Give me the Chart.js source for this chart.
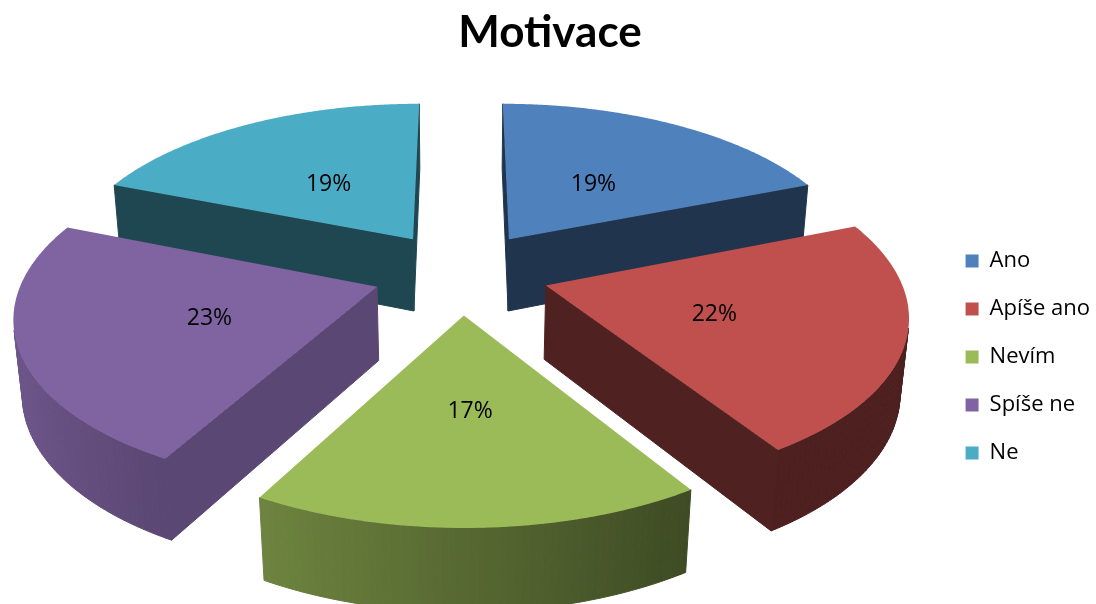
<!DOCTYPE html>
<html><head><meta charset="utf-8">
<script src="https://cdn.jsdelivr.net/npm/chart.js@4/dist/chart.umd.min.js"></script>
<style>html,body{margin:0;padding:0;background:#fff}#c{display:block}</style>
</head><body>
<canvas id="c" width="1096" height="604"></canvas>
<script>
// ---- data ----
const categories = ['Ano', 'Apíše ano', 'Nevím', 'Spíše ne', 'Ne'];
const values = [19, 22, 17, 23, 19];
const titleText = 'Motivace';

// ---- styles ----
const colors = ['#4F81BD', '#C0504D', '#9BBB59', '#8064A2', '#4BACC6'];
const radialShade = [0.41, 0.41, 0.41, 0.71, 0.41];
const view = { cx: 461, cy: 272.5, F: 2044, D: 5.80, tilt: Math.asin(0.4696), explode: 0.25, depth: 0.24, labelR: 0.48 };

function shade(hex, f) {
  const n = parseInt(hex.slice(1), 16);
  const r = (n >> 16) & 255, g = (n >> 8) & 255, b = n & 255;
  return 'rgb(' + Math.round(r * f) + ',' + Math.round(g * f) + ',' + Math.round(b * f) + ')';
}
function project(X, Y, Z) {
  const s = Math.sin(view.tilt), c = Math.cos(view.tilt);
  const w = view.D - (Y * s + Z * c);
  const sy = Z * s - Y * c;
  return [view.cx + view.F * X / w, view.cy + view.F * sy / w];
}
function poly(ctx, pts, fill, stroke) {
  ctx.beginPath();
  pts.forEach((p, k) => k ? ctx.lineTo(p[0], p[1]) : ctx.moveTo(p[0], p[1]));
  ctx.closePath();
  ctx.fillStyle = fill; ctx.fill();
  if (stroke) { ctx.strokeStyle = fill; ctx.lineWidth = 1; ctx.lineJoin = 'round'; ctx.stroke(); }
}

const pie3d = {
  id: 'pie3d',
  beforeDatasetsDraw(chart) {
    const ctx = chart.ctx;
    const meta = chart.getDatasetMeta(0);
    const c = Math.cos(view.tilt);
    const camZ = view.D * c;
    const H = view.depth;
    const total = values.reduce((a, b) => a + b, 0);
    const slices = meta.data.map((arc, i) => {
      const a0 = arc.startAngle, a1 = arc.endAngle, m = (a0 + a1) / 2;
      return { i, a0, a1, m, ox: view.explode * Math.cos(m), oz: view.explode * Math.sin(m) };
    });
    const order = slices.slice().sort((p, q) => p.oz - q.oz);
    const visible = (nx, nz, px, pz) => nx * (0 - px) + nz * (camZ - pz) > 0;
    ctx.save();
    order.forEach(sl => {
      const col = colors[sl.i];
      const { a0, a1, ox, oz } = sl;
      const rim = t => [ox + Math.cos(t), oz + Math.sin(t)];
      // radial faces
      const faces = [
        { a: a0, nx: Math.sin(a0), nz: -Math.cos(a0) },
        { a: a1, nx: -Math.sin(a1), nz: Math.cos(a1) }
      ];
      faces.forEach(f => {
        if (!visible(f.nx, f.nz, ox, oz)) return;
        const r = rim(f.a);
        poly(ctx, [project(ox, 0, oz), project(r[0], 0, r[1]), project(r[0], -H, r[1]), project(ox, -H, oz)], shade(col, radialShade[sl.i]), true);
      });
      // outer wall
      const n = Math.max(8, Math.ceil((a1 - a0) / (Math.PI / 180)));
      for (let k = 0; k < n; k++) {
        const t0 = a0 + (a1 - a0) * k / n, t1 = a0 + (a1 - a0) * (k + 1) / n, tm = (t0 + t1) / 2;
        const nx = Math.cos(tm), nz = Math.sin(tm);
        const pm = rim(tm);
        if (!visible(nx, nz, pm[0], pm[1])) continue;
        const f = Math.min(0.85, Math.max(0.40, 0.56 - 0.30 * nx));
        const p0 = rim(t0), p1 = rim(t1);
        poly(ctx, [project(p0[0], 0, p0[1]), project(p1[0], 0, p1[1]), project(p1[0], -H, p1[1]), project(p0[0], -H, p0[1])], shade(col, f), true);
      }
      // top face
      const pts = [project(ox, 0, oz)];
      const m2 = Math.max(16, Math.ceil((a1 - a0) / (Math.PI / 360)));
      for (let k = 0; k <= m2; k++) {
        const t = a0 + (a1 - a0) * k / m2;
        const p = rim(t);
        pts.push(project(p[0], 0, p[1]));
      }
      poly(ctx, pts, col, false);
    });
    // labels
    ctx.fillStyle = '#000';
    ctx.font = '23px "Open Sans"';
    ctx.textAlign = 'center';
    ctx.textBaseline = 'middle';
    slices.forEach(sl => {
      const X = sl.ox + view.labelR * Math.cos(sl.m), Z = sl.oz + view.labelR * Math.sin(sl.m);
      const p = project(X, 0, Z);
      ctx.fillText(Math.round(values[sl.i] / total * 100) + '%', p[0], p[1] + 3);
    });
    ctx.restore();
    return false;
  }
};

new Chart(document.getElementById('c').getContext('2d'), {
  type: 'pie',
  data: {
    labels: categories,
    datasets: [{ data: values, backgroundColor: colors, borderWidth: 0 }]
  },
  options: {
    responsive: false,
    animation: false,
    events: [],
    layout: { padding: { top: 0, left: 0, bottom: 0, right: -4 } },
    plugins: {
      title: {
        display: true, text: titleText, color: '#000',
        font: { family: 'Lato', size: 44, weight: 'bold', lineHeight: 1.2 },
        padding: { top: 6, bottom: 51 }
      },
      legend: {
        position: 'right',
        fullSize: false,
        labels: { boxWidth: 13, boxHeight: 13, padding: 26, color: '#000', font: { family: '"Open Sans"', size: 22 } }
      },
      tooltip: { enabled: false }
    }
  },
  plugins: [pie3d]
});
</script>
</body></html>
